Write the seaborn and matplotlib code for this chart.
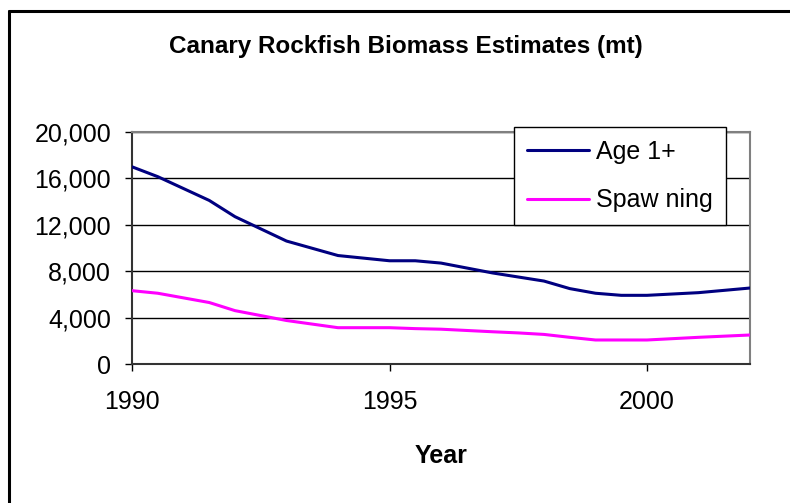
import pandas as pd
import matplotlib
matplotlib.use("Agg")
import matplotlib.pyplot as plt
import seaborn as sns
from matplotlib.lines import Line2D

# > Values (metric tons)
years = [1990, 1990.5, 1991.5, 1992, 1993, 1994, 1995, 1995.5, 1996,
         1997, 1997.5, 1998, 1998.5, 1999, 1999.5, 2000, 2001, 2002]
age1 = [17000, 16150, 14100, 12700, 10600, 9350, 8900, 8900, 8700,
        7850, 7500, 7150, 6500, 6100, 5920, 5920, 6150, 6550]
spawning = [6320, 6100, 5300, 4600, 3750, 3130, 3130, 3050, 3000,
            2780, 2680, 2550, 2300, 2070, 2070, 2070, 2300, 2500]
series_names = ["Age 1+", "Spaw ning"]
series_colors = ["#000080", "#FF00FF"]
x_ticks = [1990, 1995, 2000]
y_ticks = [0, 4000, 8000, 12000, 16000, 20000]

df = pd.concat([
    pd.DataFrame({"Year": years, "Biomass": age1, "Series": series_names[0]}),
    pd.DataFrame({"Year": years, "Biomass": spawning, "Series": series_names[1]}),
])

sns.set_style("white")
plt.rcParams["font.family"] = ["Liberation Sans", "DejaVu Sans"]
plt.rcParams["text.color"] = "black"
plt.rcParams["xtick.color"] = "black"
plt.rcParams["ytick.color"] = "black"

W, H = 790, 503
fig = plt.figure(figsize=(7.9, 5.03), dpi=100)
ax = fig.add_axes([132 / W, 1 - 364 / H, 618 / W, 232 / H])

sns.lineplot(data=df, x="Year", y="Biomass", hue="Series",
             palette=dict(zip(series_names, series_colors)),
             linewidth=2.2, ax=ax, sort=False, zorder=3)

ax.set_xlim(1990, 2002)
ax.set_ylim(0, 20000)
ax.set_xticks(x_ticks)
ax.set_xticklabels([str(t) for t in x_ticks])
ax.set_yticks(y_ticks)
ax.set_yticklabels([f"{t:,}" for t in y_ticks])
ax.set_xlabel("")
ax.set_ylabel("")

ax.yaxis.grid(True, color="black", linewidth=1.0, zorder=1)
ax.xaxis.grid(False)
ax.tick_params(axis="both", labelsize=18, labelcolor="black", color="black",
               length=5, width=1, direction="out")
ax.tick_params(axis="y", pad=10)
ax.tick_params(axis="x", pad=14)
ax.tick_params(left=True, bottom=True)

for side in ["top", "right"]:
    ax.spines[side].set_color("#808080")
    ax.spines[side].set_linewidth(1.5)
for side in ["left", "bottom"]:
    ax.spines[side].set_color("#333333")
    ax.spines[side].set_linewidth(1.5)

handles = [Line2D([0], [0], color=c, linewidth=2.2) for c in series_colors]
leg = ax.legend(handles, series_names, loc="upper left",
                bbox_to_anchor=((514 - 132) / 618, (364 - 127) / 232),
                fontsize=18, frameon=True, fancybox=False, framealpha=1,
                edgecolor="black", borderaxespad=0, borderpad=0.5,
                handlelength=2.5, handletextpad=0.3, labelspacing=1.0)
leg.get_frame().set_linewidth(1.0)
leg.set_zorder(5)
for t in leg.get_texts():
    t.set_color("black")

fig.text(406 / W, 1 - 53.5 / H, "Canary Rockfish Biomass Estimates (mt)",
         ha="center", va="baseline", fontsize=17.5, fontweight="bold")
fig.text(441 / W, 1 - 463 / H, "Year", ha="center", va="baseline",
         fontsize=18, fontweight="bold")

# > Outer chart border (only the left and top edges fall inside the picture)
fig.add_artist(Line2D([8.5 / W, 8.5 / W], [0, 1 - 11.3 / H],
                      transform=fig.transFigure, color="black", linewidth=2.2))
fig.add_artist(Line2D([8.5 / W, 1], [1 - 11.3 / H, 1 - 11.3 / H],
                      transform=fig.transFigure, color="black", linewidth=2.2))

fig.savefig("out.png", dpi=100)
